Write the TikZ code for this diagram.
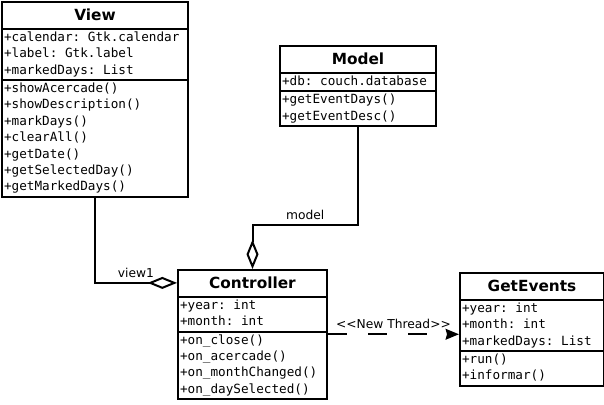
\documentclass[tikz,border=0pt]{standalone}
\usepackage{fontspec}
\setmainfont{DejaVu Sans}
\setmonofont{DejaVu Sans Mono}
\usetikzlibrary{shapes.multipart,arrows.meta,calc}
\tikzset{%
      classbox/.style={draw, line width=1.5pt, rectangle split, rectangle split parts=3, rectangle split part align={center,left,left}, align=left, anchor=north west, inner xsep=1.5pt, inner ysep=0pt, font=\ttfamily\fontsize{9.5}{12.3}\selectfont},
      aggreg/.style={draw, line width=1.5pt, -{Diamond[open,length=22pt,width=9pt]}},
      thread/.style={draw, line width=1.5pt, dash pattern=on 14pt off 16pt, -{Stealth[length=10pt,width=8pt,inset=1pt]}},
      rolename/.style={above, font=\fontsize{9.2}{11}\selectfont},
    }
\newcommand{\classtitle}[1]{{\normalfont\bfseries\fontsize{11.5}{14}\selectfont\rule[-5.3pt]{0pt}{18.6pt}#1}}
\newcommand{\classe}[5]{node (#1) [classbox, minimum width=#2] {\classtitle{#3}\nodepart{second}\strut#4\strut\nodepart{third}\strut#5\strut}}

\begin{document}
\begin{tikzpicture}[x=0.75pt, y=-0.75pt]
      \useasboundingbox (0,0) rectangle (604,404);

      % Draw classes
      \path (1,1) \classe{view}{139.5pt}{View}{+calendar: Gtk.calendar\\+label: Gtk.label\\+markedDays: List}{+showAcercade()\\+showDescription()\\+markDays()\\+clearAll()\\+getDate()\\+getSelectedDay()\\+getMarkedDays()};
      \path (279,45) \classe{model}{117pt}{Model}{+db: couch.database}{+getEventDays()\\+getEventDesc()};
      \path (177,269) \classe{ctrl}{111.75pt}{Controller}{+year: int\\+month: int}{+on\_close()\\+on\_acercade()\\+on\_monthChanged()\\+on\_daySelected()};
      \path (459,272) \classe{getev}{108pt}{GetEvents}{+year: int\\+month: int\\+markedDays: List}{+run()\\+informar()};

      % Draw associations
      \path [aggreg] (view.south) |- node [rolename, pos=0.75] {view1} ($(ctrl.north west)!0.5!(ctrl.text split west)$);
      \path [aggreg] (model.south) -- ++(0,98) -| node [rolename, pos=0.25] {model} (ctrl.north);
      \coordinate (thr) at ([yshift=-2pt]ctrl.second split east);
      \path [thread] (thr) -- node [rolename] {<\kern0pt<New Thread>\kern0pt>} (getev.west |- thr);

\end{tikzpicture}
\end{document}
